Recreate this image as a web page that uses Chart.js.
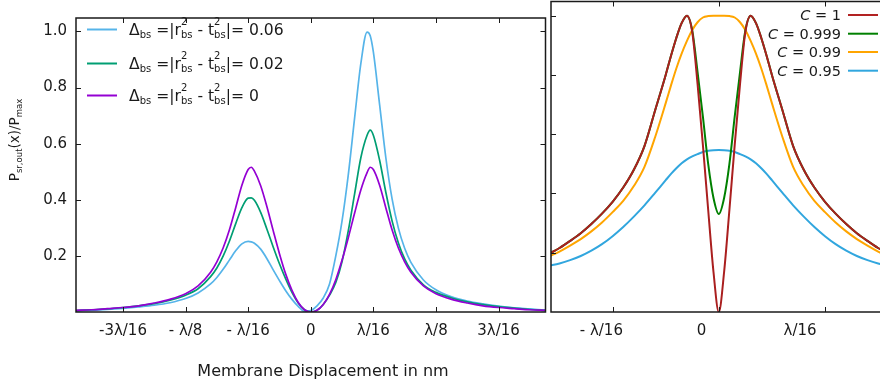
<!DOCTYPE html>
<html>
<head>
<meta charset="utf-8">
<script src="https://cdn.jsdelivr.net/npm/chart.js@4.4.1/dist/chart.umd.min.js"></script>
<style>
  html, body { margin: 0; padding: 0; background: #fff; overflow: hidden; }
  #wrap { position: relative; width: 880px; height: 388px; overflow: hidden; }
  #left { position: absolute; left: 0; top: 0; }
  #right { position: absolute; left: 545px; top: 0; }
</style>
</head>
<body>
<div id="wrap">
  <canvas id="left" width="550" height="388"></canvas>
  <canvas id="right" width="345" height="388"></canvas>
</div>
<script>
// left panel: membrane displacement in units of lambda/16
const displacement = [-3.75, -3.5, -3.25, -3, -2.75, -2.5, -2.25, -2, -1.8, -1.6, -1.5, -1.4, -1.3, -1.2, -1.1, -1, -0.95, -0.9, -0.8, -0.7, -0.6, -0.5, -0.4, -0.3, -0.2, -0.1, 0,
  0.1, 0.2, 0.3, 0.4, 0.5, 0.6, 0.7, 0.8, 0.9, 0.95, 1, 1.1, 1.2, 1.3, 1.4, 1.5, 1.6, 1.8, 2, 2.25, 2.5, 2.75, 3, 3.25, 3.5, 3.75];
const powerDelta006 = [0.004, 0.006, 0.009, 0.013, 0.018, 0.024, 0.033, 0.048, 0.068, 0.100, 0.123, 0.152, 0.185, 0.218, 0.243, 0.252, 0.250, 0.245, 0.224, 0.190, 0.150, 0.112, 0.076, 0.045, 0.020, 0.002, 0.005,
  0.022, 0.050, 0.100, 0.200, 0.325, 0.490, 0.690, 0.885, 0.998, 0.985, 0.927, 0.739, 0.549, 0.402, 0.299, 0.227, 0.177, 0.114, 0.079, 0.054, 0.039, 0.029, 0.021, 0.015, 0.011, 0.007];
const powerDelta002 = [0.005, 0.008, 0.011, 0.016, 0.022, 0.030, 0.042, 0.060, 0.083, 0.126, 0.157, 0.199, 0.252, 0.314, 0.372, 0.406, 0.407, 0.398, 0.355, 0.295, 0.232, 0.172, 0.118, 0.070, 0.032, 0.008, 0,
  0.006, 0.027, 0.060, 0.105, 0.180, 0.290, 0.420, 0.550, 0.630, 0.648, 0.630, 0.541, 0.426, 0.324, 0.246, 0.189, 0.149, 0.097, 0.070, 0.050, 0.036, 0.026, 0.019, 0.014, 0.009, 0.006];
const powerDelta0 = [0.006, 0.008, 0.012, 0.016, 0.022, 0.032, 0.045, 0.065, 0.093, 0.142, 0.179, 0.228, 0.292, 0.371, 0.452, 0.508, 0.516, 0.502, 0.450, 0.375, 0.290, 0.208, 0.135, 0.077, 0.034, 0.008, 0,
  0.006, 0.027, 0.063, 0.115, 0.185, 0.265, 0.352, 0.435, 0.497, 0.516, 0.508, 0.452, 0.371, 0.292, 0.228, 0.179, 0.142, 0.093, 0.065, 0.045, 0.032, 0.022, 0.016, 0.012, 0.008, 0.006];
const xTickValues = [-3, -2, -1, 0, 1, 2, 3];
const xTickLabels = ['-3λ/16', '- λ/8', '- λ/16', '0', 'λ/16', 'λ/8', '3λ/16'];
const yTickValues = [0.2, 0.4, 0.6, 0.8, 1.0];
const deltaLabels = ['0.06', '0.02', '0'];

// right panel: same axis, different C
const detuning = [-1.6, -1.5, -1.4, -1.3, -1.2, -1.1, -1, -0.9, -0.8, -0.7, -0.6, -0.5, -0.45, -0.4, -0.35, -0.3, -0.25, -0.2, -0.15, -0.1, -0.05, 0,
  0.05, 0.1, 0.15, 0.2, 0.25, 0.3, 0.35, 0.4, 0.45, 0.5, 0.6, 0.7, 0.8, 0.9, 1, 1.1, 1.2, 1.3, 1.4, 1.5, 1.6];
const powerC1 = [0.196, 0.216, 0.240, 0.266, 0.297, 0.332, 0.372, 0.420, 0.480, 0.560, 0.680, 0.800, 0.865, 0.925, 0.975, 1.0, 0.945, 0.770, 0.565, 0.345, 0.135, 0,
  0.135, 0.345, 0.565, 0.770, 0.945, 1.0, 0.975, 0.925, 0.865, 0.800, 0.680, 0.560, 0.480, 0.420, 0.372, 0.332, 0.297, 0.266, 0.240, 0.216, 0.196];
const powerC0999 = [0.196, 0.216, 0.240, 0.266, 0.297, 0.332, 0.372, 0.420, 0.480, 0.560, 0.680, 0.800, 0.865, 0.925, 0.975, 1.0, 0.950, 0.810, 0.660, 0.500, 0.385, 0.331,
  0.385, 0.500, 0.660, 0.810, 0.950, 1.0, 0.975, 0.925, 0.865, 0.800, 0.680, 0.560, 0.480, 0.420, 0.372, 0.332, 0.297, 0.266, 0.240, 0.216, 0.196];
const powerC099 = [0.187, 0.204, 0.224, 0.246, 0.272, 0.302, 0.337, 0.375, 0.425, 0.490, 0.590, 0.705, 0.765, 0.822, 0.872, 0.915, 0.952, 0.978, 0.994, 0.999, 1.0, 1.0,
  1.0, 0.999, 0.994, 0.978, 0.952, 0.915, 0.872, 0.822, 0.765, 0.705, 0.590, 0.490, 0.425, 0.375, 0.337, 0.302, 0.272, 0.246, 0.224, 0.204, 0.187];
const powerC095 = [0.156, 0.164, 0.175, 0.189, 0.207, 0.229, 0.256, 0.287, 0.322, 0.360, 0.402, 0.445, 0.466, 0.485, 0.502, 0.515, 0.525, 0.533, 0.540, 0.544, 0.546, 0.547,
  0.546, 0.544, 0.540, 0.533, 0.525, 0.515, 0.502, 0.485, 0.466, 0.445, 0.402, 0.360, 0.322, 0.287, 0.256, 0.229, 0.207, 0.189, 0.175, 0.164, 0.156];
const rightTickValues = [-1, 0, 1];
const rightTickLabels = ['- λ/16', '0', 'λ/16'];
const cLabels = ['1', '0.999', '0.99', '0.95'];

const FONT = '"DejaVu Sans"';
const INK = '#1a1a1a';
// gnuplot puts the right panel labels left of their ticks
const rightLabelShift = ['\u2003\u2002', '\u2003\u2003 ', '\u2003\u2003\u2003 '];

function pts(xs, ys) {
  return xs.map((x, i) => ({ x: x, y: ys[i] }));
}

function seg(ctx, x1, y1, x2, y2) {
  ctx.beginPath();
  ctx.moveTo(x1, y1);
  ctx.lineTo(x2, y2);
  ctx.stroke();
}

// text with sub / superscripts; parts are strings or {sup, sub}
function rich(ctx, x, y, parts, size, small, draw) {
  for (const p of parts) {
    if (typeof p === 'string') {
      ctx.font = size + 'px ' + FONT;
      if (draw) ctx.fillText(p, x, y);
      x += ctx.measureText(p).width;
    } else {
      ctx.font = small + 'px ' + FONT;
      let w = 0;
      if (p.sup) {
        if (draw) ctx.fillText(p.sup, x, y - size * 0.58);
        w = ctx.measureText(p.sup).width;
      }
      if (p.sub) {
        if (draw) ctx.fillText(p.sub, x, y + size * 0.22);
        w = Math.max(w, ctx.measureText(p.sub).width);
      }
      x += w;
    }
  }
  return x;
}

// box + inward ticks like gnuplot
const frameTicks = {
  id: 'frameTicks',
  afterDatasetsDraw(chart, args, opts) {
    const ctx = chart.ctx;
    const a = chart.chartArea;
    const x = chart.scales.x, y = chart.scales.y;
    ctx.save();
    ctx.strokeStyle = INK;
    ctx.lineWidth = 1;
    for (const v of opts.xTicks) {
      const px = Math.round(x.getPixelForValue(v)) + 0.5;
      seg(ctx, px, a.bottom, px, a.bottom - 5);
      seg(ctx, px, a.top, px, a.top + 5);
    }
    for (const v of opts.yTicks) {
      const py = Math.round(y.getPixelForValue(v)) + 0.5;
      seg(ctx, a.left, py, a.left + 5, py);
      seg(ctx, a.right, py, a.right - 5, py);
    }
    ctx.lineWidth = 1.5;
    ctx.strokeRect(a.left, a.top, a.right - a.left, a.bottom - a.top);
    ctx.restore();
  }
};

const leftText = {
  id: 'leftText',
  afterDraw(chart) {
    const ctx = chart.ctx;
    ctx.save();
    ctx.fillStyle = INK;
    ctx.textBaseline = 'alphabetic';
    // legend
    const rowsY = [29.5, 63.5, 95.5];
    const cols = ['#56b4e9', '#009e73', '#9400d3'];
    deltaLabels.forEach((lab, i) => {
      ctx.strokeStyle = cols[i];
      ctx.lineWidth = 2;
      seg(ctx, 87, rowsY[i], 117, rowsY[i]);
      rich(ctx, 129, rowsY[i] + 5, ['Δ', { sub: 'bs' }, ' =|r', { sup: '2', sub: 'bs' }, ' - t', { sup: '2', sub: 'bs' }, '|= ' + lab], 15.6, 10, true);
    });
    // x title
    ctx.font = '16px ' + FONT;
    ctx.textAlign = 'center';
    ctx.textBaseline = 'middle';
    ctx.fillText('Membrane Displacement in nm', 323, 372);
    // y title
    ctx.textAlign = 'left';
    ctx.textBaseline = 'alphabetic';
    const yParts = ['P', { sub: 'sr,out' }, '(x)/P', { sub: 'max' }];
    const w = rich(ctx, 0, 0, yParts, 13.5, 8.5, false);
    ctx.translate(19, 140);
    ctx.rotate(-Math.PI / 2);
    rich(ctx, -w / 2, 0, yParts, 13.5, 8.5, true);
    ctx.restore();
  }
};

const rightText = {
  id: 'rightText',
  afterDraw(chart) {
    const ctx = chart.ctx;
    const left = 545;
    ctx.save();
    ctx.fillStyle = INK;
    const rowsY = [15, 33.7, 52, 70.7];
    const cols = ['#b22222', '#008000', '#ffa500', '#31a6de'];
    cLabels.forEach((lab, i) => {
      ctx.font = 'italic 14.5px ' + FONT;
      const wc = ctx.measureText('C').width;
      ctx.font = '14.5px ' + FONT;
      const wr = ctx.measureText(' = ' + lab).width;
      const x0 = 841 - left - wc - wr;
      ctx.font = 'italic 14.5px ' + FONT;
      ctx.fillText('C', x0, rowsY[i] + 5);
      ctx.font = '14.5px ' + FONT;
      ctx.fillText(' = ' + lab, x0 + wc, rowsY[i] + 5);
      ctx.strokeStyle = cols[i];
      ctx.lineWidth = 2;
      seg(ctx, 848 - left, rowsY[i], 878 - left, rowsY[i]);
    });
    ctx.restore();
  }
};

function lineSet(data, color, width) {
  return { data: data, borderColor: color, borderWidth: width, pointRadius: 0, fill: false, cubicInterpolationMode: 'monotone' };
}

const tickFont = { family: 'DejaVu Sans', size: 15 };

new Chart(document.getElementById('left'), {
  type: 'line',
  data: {
    datasets: [
      lineSet(pts(displacement, powerDelta0), '#9400d3', 1.7),
      lineSet(pts(displacement, powerDelta002), '#009e73', 1.7),
      lineSet(pts(displacement, powerDelta006), '#56b4e9', 1.7)
    ]
  },
  options: {
    responsive: false,
    animation: false,
    devicePixelRatio: 1,
    events: [],
    layout: { padding: { top: 1.5, right: 4.5, left: 0, bottom: 0 } },
    plugins: {
      legend: { display: false },
      tooltip: { enabled: false },
      frameTicks: { xTicks: xTickValues, yTicks: yTickValues }
    },
    scales: {
      x: {
        type: 'linear', min: -3.75, max: 3.75,
        grid: { display: false, drawTicks: false },
        border: { display: false },
        afterBuildTicks: s => { s.ticks = xTickValues.map(v => ({ value: v })); },
        afterFit: s => { s.height = 76; },
        ticks: { autoSkip: false, maxRotation: 0, padding: 10, color: INK, font: tickFont,
          callback: v => xTickLabels[xTickValues.indexOf(v)] }
      },
      y: {
        type: 'linear', min: 0, max: 1.048,
        grid: { display: false, drawTicks: false },
        border: { display: false },
        afterBuildTicks: s => { s.ticks = yTickValues.map(v => ({ value: v })); },
        afterFit: s => { s.width = 76; },
        ticks: { autoSkip: false, padding: 9, color: INK, font: tickFont,
          callback: v => v.toFixed(1) }
      }
    }
  },
  plugins: [frameTicks, leftText]
});

new Chart(document.getElementById('right'), {
  type: 'line',
  data: {
    datasets: [
      lineSet(pts(detuning, powerC1), '#aa1f1f', 2),
      lineSet(pts(detuning, powerC0999), '#008000', 2),
      lineSet(pts(detuning, powerC099), '#ffa500', 2),
      lineSet(pts(detuning, powerC095), '#31a6de', 2)
    ]
  },
  options: {
    responsive: false,
    animation: false,
    devicePixelRatio: 1,
    events: [],
    layout: { padding: { top: 1.5, right: 3.4, left: 6, bottom: 0 } },
    plugins: {
      legend: { display: false },
      tooltip: { enabled: false },
      frameTicks: { xTicks: rightTickValues, yTicks: yTickValues }
    },
    scales: {
      x: {
        type: 'linear', min: -1.58, max: 1.58,
        grid: { display: false, drawTicks: false },
        border: { display: false },
        afterBuildTicks: s => { s.ticks = rightTickValues.map(v => ({ value: v })); },
        afterFit: s => { s.height = 76; },
        ticks: { autoSkip: false, maxRotation: 0, padding: 10, color: INK, font: tickFont,
          callback: v => {
            const i = rightTickValues.indexOf(v);
            return rightTickLabels[i] + rightLabelShift[i];
          } }
      },
      y: { type: 'linear', min: 0, max: 1.048, display: false }
    }
  },
  plugins: [frameTicks, rightText]
});
</script>
</body>
</html>
